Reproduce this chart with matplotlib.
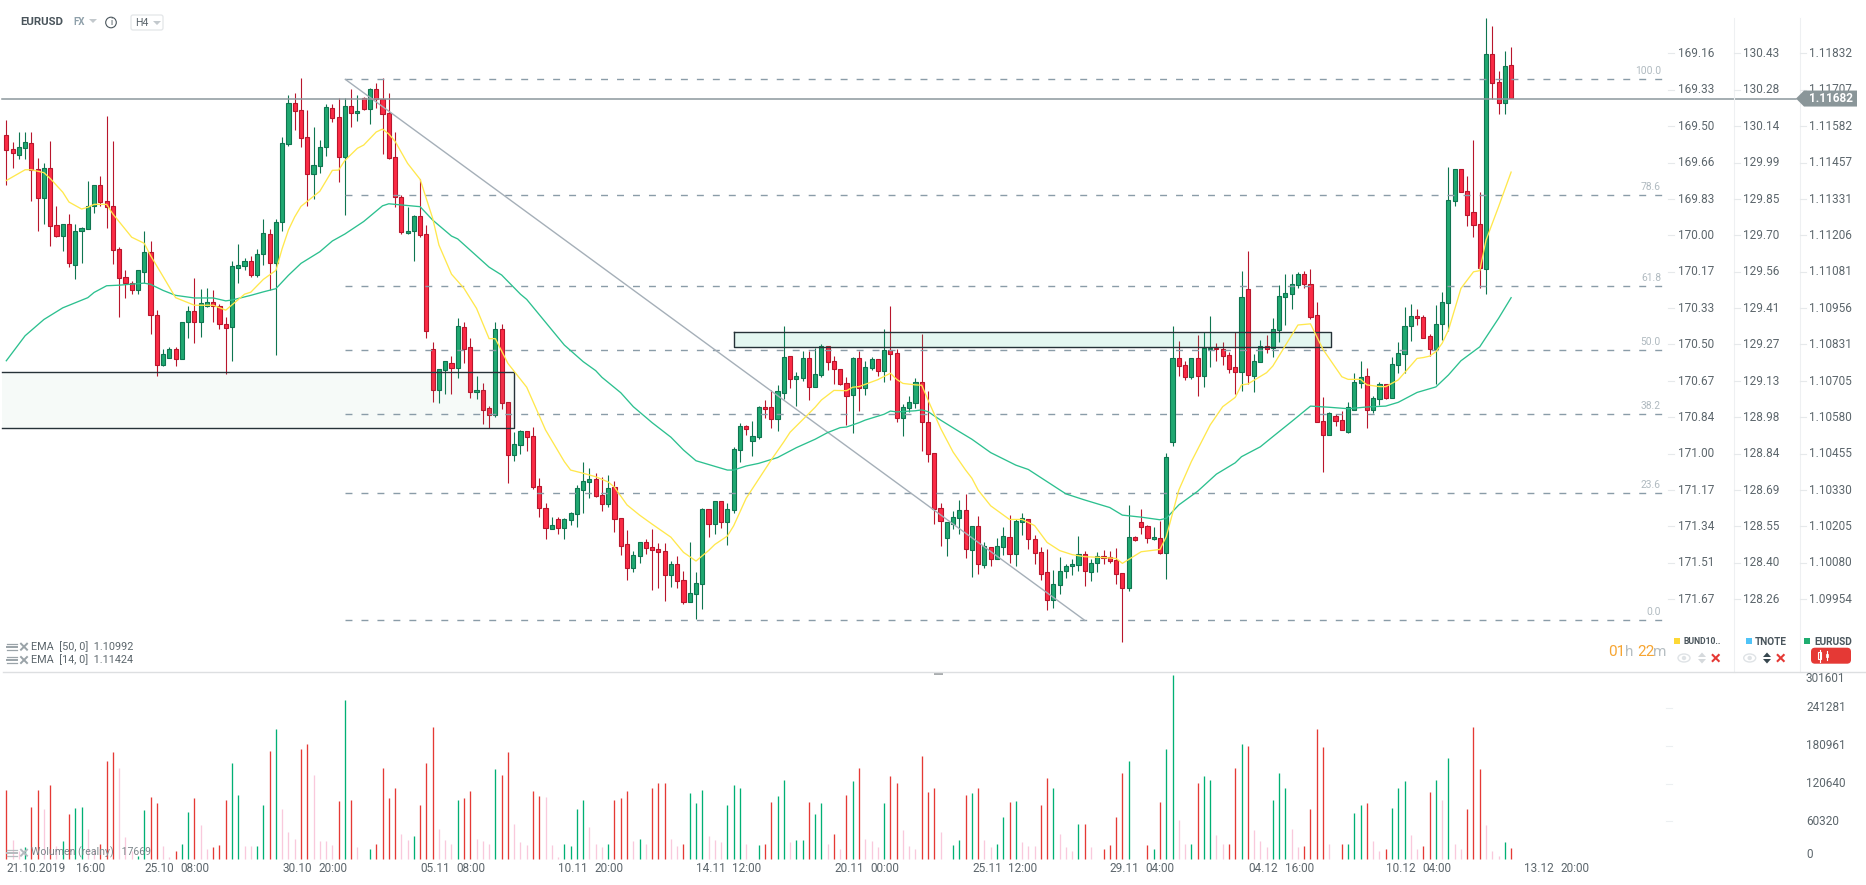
import matplotlib
matplotlib.use("Agg")
import matplotlib.pyplot as plt
from matplotlib.patches import Rectangle, FancyBboxPatch, Polygon, Circle
import numpy as np

plt.rcParams['font.family'] = ['Roboto', 'DejaVu Sans']

# ---- data: EURUSD H4, prices in points (1e-5) above BASE -------------------
BASE = 1.09
POINT = 1e-5
direction = ("RRGGRRGRRG" "RGGGGRRRRR" "RGGRRGGRGG" "RGGRRRGGGR" "GGRGGGRRRG"
             "GGRRGRGRGR" "RRRRGGRRRG" "GRGRRGRRGR" "RGGRRRRGRG" "GGGGRRGRRR"
             "GGRRRRGRRG" "GGRGRGGGRG" "GRRGGRGGRG" "GRRRRGRGGR" "GRRGGGRRRR"
             "GGGRGRGRGG" "RGGRRRRGGG" "GGRGGRRRRG" "RRRGRGGRRG" "RGGRRRRGRG"
             "GRGGGGGRRR" "RGRRGGGRGG" "RGGGGRRRGG" "GGRRRRGRRG" "R")
body_top = [
 2550,2502,2512,2526,2523,2433,2437,2437,2241,2244,
 2247,2223,2230,2309,2378,2378,2323,2306,2161,2062,
 2044,2086,2148,2148,1934,1797,1817,1814,1910,1945,
 1945,1972,1976,1976,1965,1903,2100,2103,2117,2117,
 2141,2213,2210,2254,2523,2660,2660,2636,2543,2447,
 2512,2647,2643,2612,2650,2650,2633,2678,2709,2709,
 2674,2626,2475,2340,2223,2272,2272,2210,1814,1745,
 1773,1769,1893,1890,1821,1676,1673,1611,1883,1883,
 1632,1488,1532,1532,1515,1343,1267,1209,1229,1229,
 1250,1336,1360,1367,1367,1312,1336,1340,1233,1143,
 1106,1150,1150,1133,1126,1119,1075,1075,1020,975,
 1009,1264,1264,1291,1291,1264,1470,1549,1549,1515,
 1615,1615,1615,1670,1787,1790,1721,1783,1783,1728,
 1825,1825,1773,1746,1697,1783,1783,1752,1780,1780,
 1811,1811,1801,1615,1632,1701,1701,1563,1457,1267,
 1219,1236,1260,1260,1205,1205,1137,1133,1137,1171,
 1168,1223,1233,1229,1161,1116,1047,1006,1051,1068,
 1075,1109,1109,1081,1102,1102,1099,1088,1044,1168,
 1168,1219,1205,1168,1164,1443,1783,1783,1759,1783,
 1783,1818,1820,1818,1814,1794,1752,1993,2021,1773,
 1825,1825,1883,1997,2007,2038,2072,2072,2038,1932,
 1567,1594,1584,1570,1615,1701,1718,1721,1646,1694,
 1694,1763,1801,1894,1928,1928,1924,1859,1903,1976,
 2327,2436,2433,2358,2285,2244,2829,2829,2733,2788,
 2791]
body_bottom = [
 2501,2488,2484,2506,2430,2334,2334,2237,2203,2203,
 2110,2106,2220,2227,2309,2320,2303,2155,2058,2041,
 2017,2017,2082,1931,1762,1762,1783,1780,1780,1907,
 1910,1910,1965,1962,1900,1886,1890,2093,2100,2069,
 2069,2141,2110,2110,2251,2519,2633,2540,2416,2416,
 2444,2509,2609,2475,2475,2626,2626,2640,2640,2674,
 2623,2471,2337,2217,2213,2220,2206,1879,1673,1673,
 1742,1749,1749,1817,1669,1669,1607,1587,1587,1628,
 1450,1450,1484,1512,1342,1267,1198,1195,1198,1198,
 1226,1247,1329,1357,1311,1281,1281,1229,1137,1061,
 1061,1102,1130,1123,1116,1037,1037,1016,944,944,
 971,1006,1212,1212,1219,1219,1260,1467,1539,1498,
 1512,1608,1574,1574,1663,1711,1711,1715,1684,1684,
 1725,1770,1746,1694,1653,1656,1680,1680,1749,1739,
 1739,1797,1577,1577,1611,1629,1563,1453,1264,1223,
 1164,1212,1233,1126,1123,1075,1071,1092,1092,1133,
 1109,1109,1219,1161,1112,1040,951,951,1002,1051,
 1068,1071,1051,1047,1078,1095,1085,1040,995,995,
 1157,1202,1164,1161,1112,1112,1494,1756,1718,1718,
 1721,1721,1814,1814,1790,1746,1735,1735,1725,1721,
 1770,1814,1818,1880,1993,2004,2035,2038,1927,1563,
 1518,1518,1567,1536,1529,1605,1697,1605,1605,1642,
 1646,1646,1759,1797,1894,1921,1855,1814,1814,1900,
 1972,2323,2354,2278,2241,2093,2089,2729,2660,2660,
 2678]
highs = [
 2603,2526,2562,2562,2562,2471,2457,2531,2307,2244,
 2280,2245,2236,2393,2378,2410,2617,2531,2165,2087,
 2048,2086,2221,2187,1948,1817,1821,1821,1910,1962,
 2058,2022,2025,2018,1969,1927,2117,2176,2128,2134,
 2159,2262,2227,2261,2545,2688,2695,2746,2636,2579,
 2534,2657,2657,2678,2678,2710,2688,2681,2712,2729,
 2746,2695,2561,2344,2305,2278,2399,2241,1838,1745,
 1773,1793,1921,1910,1852,1724,1700,1621,1908,1903,
 1632,1529,1536,1532,1547,1371,1285,1238,1236,1233,
 1254,1346,1427,1406,1388,1374,1381,1360,1233,1192,
 1121,1150,1161,1195,1147,1147,1085,1102,1051,1150,
 1047,1267,1264,1291,1291,1285,1477,1560,1553,1568,
 1618,1639,1673,1691,1894,1790,1735,1808,1808,1818,
 1832,1825,1790,1746,1718,1787,1808,1774,1787,1780,
 1883,1962,1814,1625,1653,1715,1866,1670,1457,1285,
 1219,1257,1296,1317,1205,1240,1150,1133,1164,1203,
 1243,1229,1250,1229,1174,1133,1126,1054,1099,1075,
 1092,1171,1119,1092,1116,1123,1119,1131,1044,1278,
 1171,1264,1209,1203,1223,1457,1894,1842,1773,1783,
 1863,1873,1928,1835,1839,1804,1873,2084,2153,1797,
 1845,1863,1921,2036,2073,2073,2080,2084,2091,1977,
 1649,1598,1591,1601,1632,1732,1773,1749,1653,1701,
 1694,1787,1839,1959,1969,1952,1934,1866,1966,2010,
 2440,2436,2433,2410,2533,2355,2954,2927,2771,2841,
 2853]
lows = [
 2379,2439,2469,2469,2324,2222,2245,2170,2202,2152,
 2097,2056,2111,2227,2283,2309,2231,2108,1925,1991,
 2006,2003,2041,1867,1722,1757,1783,1757,1780,1852,
 1836,1856,1960,1908,1884,1729,1774,2042,2087,2062,
 2062,2106,2017,1794,2221,2514,2569,2510,2307,2331,
 2421,2479,2596,2390,2276,2579,2600,2636,2589,2643,
 2485,2469,2304,2211,2210,2118,2200,1853,1633,1629,
 1659,1659,1715,1766,1646,1643,1559,1542,1582,1610,
 1354,1430,1454,1465,1334,1238,1162,1195,1179,1162,
 1210,1203,1251,1303,1307,1259,1272,1186,1107,1021,
 1048,1079,1109,986,993,948,997,993,938,944,
 886,921,1169,1179,1198,1141,1251,1427,1520,1447,
 1506,1578,1544,1533,1642,1681,1619,1705,1640,1684,
 1718,1742,1694,1691,1553,1527,1602,1657,1743,1722,
 1702,1709,1564,1516,1598,1611,1463,1427,1213,1138,
 1103,1196,1179,1096,1031,1041,1062,1069,1092,1106,
 1078,1069,1174,1126,1076,1021,917,924,972,1028,
 1038,1051,1000,1017,1047,1076,1081,1007,809,984,
 1155,1179,1148,1158,1109,1024,1482,1723,1709,1711,
 1654,1685,1754,1774,1761,1733,1661,1671,1694,1668,
 1770,1803,1789,1840,1898,1953,2025,2025,1920,1563,
 1392,1518,1551,1536,1525,1605,1680,1544,1594,1622,
 1642,1646,1732,1732,1843,1898,1852,1793,1695,1846,
 1876,2308,2354,2239,2200,2025,2004,2674,2624,2624,
 2678]
volume_k = [
 111,30,14,19,83,110,80,119,21,29,
 72,81,84,48,16,25,156,170,146,35,
 14,6,78,99,89,21,4,14,24,76,
 97,54,17,19,22,94,153,103,21,21,
 21,87,172,208,80,43,33,176,184,134,
 29,29,22,92,254,95,19,0,17,25,
 146,97,113,41,30,37,87,153,210,48,
 30,25,94,97,108,32,29,25,143,134,
 170,56,27,22,108,100,99,22,4,25,
 21,80,94,52,25,19,24,94,97,108,
 29,32,24,113,122,122,32,21,25,105,
 89,111,37,30,27,87,119,114,25,0,
 22,25,91,100,126,27,30,30,91,72,
 89,24,40,17,102,124,146,32,29,19,
 89,132,121,46,21,16,165,107,114,43,
 0,22,30,103,105,113,30,19,24,68,
 91,92,27,21,21,87,130,114,40,19,
 13,56,56,19,0,17,22,67,138,157,
 0,0,22,17,91,176,293,62,24,25,
 122,132,127,38,24,25,145,184,181,46,
 29,19,94,138,113,48,19,21,80,207,
 178,25,0,25,25,73,87,89,29,13,
 16,81,114,124,38,17,21,107,127,95,
 161,24,16,80,211,143,54,13,5,27,
 17.669]
volume_kind = ("RPPGRRPRPG" "RGGPPRRRPP" "PGGRRPPRGG" "RPPRRRGGPP" "GGRGPPPRRP"
               "PPPRGRPPGR" "RRRPPGRRRP" "PPGRRPPPGR" "RPPPRRPPPG" "GGGPPPGRRR"
               "PGPRRRPPRG" "GGPPPGGGPP" "GRRGGPGGRG" "GPRPRGRPPP" "GRRPPPRRRP"
               "PGGRGRPPGG" "RGPPPRRGPP" "PGRPPRRRRG" "PPRGRGGPPG" "RGGPPRRGRP"
               "PPGGGPPRRR" "RPPRGGGRPP" "RGGGPPRRGP" "GPPRRRPPPG" "R")

ema14_i = [0,3,4,6,7,9,10,12,13,14,16,17,20,22,23,25,27,30,33,35,38,39,41,43,44,45,46,47,50,52,53,54,56,57,59,60,61,62,64,66,68,69,71,73,75,77,78,80,
           83,86,89,90,92,94,96,97,99,101,103,106,108,110,112,113,115,116,118,122,124,125,129,130,132,134,135,136,139,141,142,143,145,
           146,147,149,151,153,154,155,157,160,162,164,166,168,170,172,175,177,178,181,184,185,186,187,189,192,194,196,197,198,201,202,206,208,209,210,213,214,216,217,219,220,222,225,
           226,227,228,229,230,232,234,235,236,238,240]
ema14_p = [2395,2432,2432,2422,2402,2355,2321,2297,2303,2313,2313,2280,2200,2179,2137,2065,1992,1966,1966,1949,2004,2011,2055,2086,2161,2225,2270,2306,2358,2430,2431,2464,2506,2517,2562,2572,2555,2530,2454,2399,2265,2173,2073,2024,1955,1851,1851,1766,
           1684,1537,1428,1399,1388,1376,1358,1340,1279,1244,1213,1168,1116,1086,1122,1143,1172,1207,1302,1434,1496,1529,1615,1640,1673,1672,1684,1686,1710,1732,1711,1697,1692,
           1691,1640,1543,1461,1399,1371,1330,1276,1229,1229,1208,1150,1122,1108,1101,1098,1095,1078,1118,1126,1170,1250,1330,1428,1554,1617,1649,1692,1695,1734,1757,1898,1902,1858,1814,1720,1711,1711,1692,1686,1686,1709,1783,
           1786,1791,1806,1835,1880,2024,2081,2085,2190,2305,2424]
ema50_i = [0,3,6,9,13,14,16,18,22,23,25,27,30,33,35,36,39,41,43,45,47,50,52,54,57,60,61,66,68,71,72,77,79,82,
           83,89,92,94,95,98,100,103,106,108,110,115,116,118,120,123,126,129,131,133,134,136,137,140,141,142,145,
           146,147,149,152,154,157,161,163,166,169,172,176,178,181,184,185,187,190,193,196,197,200,202,205,208,211,214,217,220,222,225,
           228,230,232,235,238,240]
ema50_p = [1775,1861,1917,1957,1992,2010,2033,2035,2042,2038,2017,2000,1991,1991,1981,1984,2000,2012,2023,2069,2110,2150,2187,2211,2254,2308,2315,2305,2259,2204,2194,2097,2070,2004,
           1986,1829,1772,1741,1718,1665,1617,1562,1512,1468,1431,1399,1399,1413,1422,1442,1476,1505,1528,1545,1547,1562,1571,1591,1602,1599,1603,
           1606,1600,1571,1531,1505,1459,1416,1401,1359,1317,1296,1270,1244,1237,1228,1233,1279,1326,1385,1424,1445,1479,1514,1566,1619,1615,1610,1616,1619,1632,1666,
           1685,1726,1775,1823,1921,1992]

fib_high, fib_low = 2743, 882
fib_labels = ["100.0", "78.6", "61.8", "50.0", "38.2", "23.6", "0.0"]
fib_ratio = [1.0, 0.786, 0.618, 0.5, 0.382, 0.236, 0.0]

price_ticks = [1.11832,1.11707,1.11582,1.11457,1.11331,1.11206,1.11081,1.10956,
               1.10831,1.10705,1.10580,1.10455,1.10330,1.10205,1.10080,1.09954]
col1_labels = ["169.16","169.33","169.50","169.66","169.83","170.00","170.17","170.33",
               "170.50","170.67","170.84","171.00","171.17","171.34","171.51","171.67"]
col2_labels = ["130.43","130.28","130.14","129.99","129.85","129.70","129.56","129.41",
               "129.27","129.13","128.98","128.84","128.69","128.55","128.40","128.26"]
last_price_label = "1.11682"
last_price_level = 1.11677
vol_ticks = [0, 60320, 120640, 180961, 241281, 301601]
date_pos = [4.7,13.4,24.4,30.1,46.4,52.1,68.4,74.1,90.4,96.1,112.4,118.1,134.4,140.1,
            156.4,162.1,178.3,184.0,200.4,206.2,222.4,228.2,244.4,250.2]
date_labels = ["21.10.2019","16:00","25.10","08:00","30.10","20:00","05.11","08:00",
               "10.11","20:00","14.11","12:00","20.11","00:00","25.11","12:00",
               "29.11","04:00","04.12","16:00","10.12","04:00","13.12","20:00"]

def price(p):
    return BASE + np.asarray(p, dtype=float) * POINT

# ---- layout -----------------------------------------------------------------
W, H = 1866, 885
fig = plt.figure(figsize=(W / 100, H / 100), dpi=100, facecolor="white")
SPLIT = 672
ax = fig.add_axes([0, 1 - SPLIT / H, 1, SPLIT / H])
vax = fig.add_axes([0, 0, 1, 1 - SPLIT / H])
ui = fig.add_axes([0, 0, 1, 1], zorder=10)
ui.set_xlim(0, W); ui.set_ylim(H, 0); ui.axis("off"); ui.patch.set_alpha(0)
for a in (ax, vax):
    a.axis("off")
    a.set_xlim(-1.005, 296.6)
ax.set_ylim(price(3016 - 3.44 * SPLIT), price(3016))
vax.set_ylim(-(885 - 859.3) * 1591.6, (859.3 - 672) * 1591.6)

# ---- candles ----------------------------------------------------------------
idx = np.arange(len(body_top))
up = np.array([d == "G" for d in direction])
top, bot, hi, lo = map(price, (body_top, body_bottom, highs, lows))
GF, GE, RF, RE = "#1fa871", "#0f7550", "#fb2b45", "#b8162c"
ax.vlines(idx[up], lo[up], hi[up], color=GE, lw=0.8, zorder=2)
ax.vlines(idx[~up], lo[~up], hi[~up], color=RE, lw=0.8, zorder=2)
ax.bar(idx[up], (top - bot)[up], bottom=bot[up], width=0.66, color=GF, edgecolor=GE, lw=0.8, zorder=3)
ax.bar(idx[~up], (top - bot)[~up], bottom=bot[~up], width=0.66, color=RF, edgecolor=RE, lw=0.8, zorder=3)

# ---- zones ------------------------------------------------------------------
EDGE = "#263238"
def zone(x0, x1, p0, p1, face, alpha, left=True):
    ax.add_patch(Rectangle((x0, price(p0)), x1 - x0, price(p1) - price(p0), fc=face, ec="none", alpha=alpha, zorder=4))
    ax.plot([x0, x1, x1, x0] if not left else [x0, x1, x1, x0, x0],
            price([p1, p1, p0, p0] if not left else [p1, p1, p0, p0, p1]), color=EDGE, lw=1.0, zorder=5)
zone(-0.7, 81.0, 1542, 1738, "#5f9f86", 0.05, left=False)
zone(116.1, 211.2, 1821, 1873, "#2fc795", 0.13)

# ---- fibonacci --------------------------------------------------------------
for lab, r in zip(fib_labels, fib_ratio):
    p = fib_low + (fib_high - fib_low) * r
    ax.plot([54.07, 265], price([p, p]), color="#8a9ca8", lw=1.0, ls=(0, (5, 6.5)), zorder=6)
    ax.annotate(lab, (265, price(p)), xytext=(-5, 2.2), textcoords="offset points",
                ha="right", va="bottom", fontsize=7.4, color="#b0bac0", zorder=6)
ax.plot([54.07, 172], price([fib_high, fib_low]), color="#a5afb8", lw=1.0, zorder=6)

# ---- EMA --------------------------------------------------------------------
ax.plot(ema50_i, price(ema50_p), color="#2cc08f", lw=0.95, zorder=7)
ax.plot(ema14_i, price(ema14_p), color="#ffe84d", lw=0.95, zorder=8)

# ---- last price -------------------------------------------------------------
ax.plot([-0.7, 285.4], [last_price_level, last_price_level], color="#8c979c", lw=1.1, zorder=9)

# ---- volume -----------------------------------------------------------------
vcol = {"R": "#e53935", "G": "#00b074", "P": "#f9c9dc"}
vax.vlines(idx, 0, np.array(volume_k) * 1000, colors=[vcol[k] for k in volume_kind], lw=0.95)
TX = "#5c666c"
for v in vol_ticks:
    y = 859.3 - v / 1591.6
    if v == 0:
        y = 854.3
    elif v == 301601:
        y = 678.7
    else:
        ui.plot([1666, 1672], [y, y], color="#eceff1", lw=0.8)
    ui.text(1806, y, str(v), ha="left", va="center", fontsize=8.5, color=TX)
for x, lab in zip(date_pos, date_labels):
    vax.annotate(lab, (x, 0), xytext=(x, -9.0 * 1591.6), ha="center", va="center",
                 fontsize=8.5, color=TX, annotation_clip=False)

# ---- price axes -------------------------------------------------------------
for x in (1734, 1800):
    ui.plot([x, x], [18, SPLIT], color="#eef0f2", lw=0.8)
for p, a, b in zip(price_ticks, col1_labels, col2_labels):
    y = (3016 - (p - BASE) / POINT) / 3.44
    for x0, xt, s in ((1668, 1678, a), (1734, 1743, b), (1800, 1809, f"{p:.5f}")):
        ui.plot([x0, x0 + 6], [y, y], color="#e6e9eb", lw=0.8)
        ui.text(xt, y, s, ha="left", va="center", fontsize=8.5, color=TX)
yl = (3016 - (last_price_level - BASE) / POINT) / 3.44
ui.add_patch(Polygon([(1796, yl), (1804, yl - 8), (1857, yl - 8), (1857, yl + 8), (1804, yl + 8)],
                     fc="#8a9699", ec="none", zorder=20))
ui.text(1809, yl, last_price_label, ha="left", va="center", fontsize=8.5, color="white",
        weight="bold", zorder=21)

# ---- header -----------------------------------------------------------------
ui.text(20, 22, "EURUSD", fontsize=8.2, weight="bold", color="#4a555c", va="center")
ui.text(73, 22, "FX", fontsize=7, weight="bold", color="#8fa0aa", va="center")
ui.add_patch(Polygon([(89, 19), (97, 19), (93, 23)], fc="#c3c9cd", ec="none"))
ui.add_patch(Circle((111, 22.5), 5.3, fc="white", ec="#4a555c", lw=0.8))
ui.text(111, 22.5, "i", fontsize=6.5, color="#4a555c", ha="center", va="center")
ui.add_patch(FancyBboxPatch((131, 15), 32, 15, boxstyle="round,pad=0,rounding_size=2", fc="white", ec="#e3e6e8", lw=0.9))
ui.text(135, 22.5, "H4", fontsize=7.6, color="#59636a", va="center")
ui.add_patch(Polygon([(153, 21), (161, 21), (157, 25)], fc="#c3c9cd", ec="none"))

# ---- indicator legends ------------------------------------------------------
def legend_icons(y, col="#9aa3a8"):
    for dy in (-3, 0, 3):
        ui.plot([7, 17], [y + dy, y + dy], color=col, lw=0.9 if dy else 1.4)
    ui.plot([21, 27], [y - 3, y + 3], color=col, lw=1.4)
    ui.plot([21, 27], [y + 3, y - 3], color=col, lw=1.4)
legend_icons(646.7)
legend_icons(660)
ui.text(31, 646.7, "EMA  [50, 0]  1.10992", fontsize=7.8, color="#5c666c", va="center")
ui.text(31, 660, "EMA  [14, 0]  1.11424", fontsize=7.8, color="#5c666c", va="center")
legend_icons(852.7, "#b5bbbf")
ui.text(31, 852.7, "Wolumen (realny)   17669", fontsize=7.6, color="#7c858a", va="center")

# ---- timer ------------------------------------------------------------------
for x, s, c in ((1608, "01", "#f7a531"), (1625, "h", "#b6bec2"), (1637, "22", "#f7a531"), (1653, "m", "#b6bec2")):
    ui.text(x, 651.7, s, fontsize=11, color=c, va="center", ha="left")

# ---- instrument legend ------------------------------------------------------
for x, col, name, tx, fs in ((1674, "#fdd835", "BUND10..", 1684, 6.2),
                             (1746, "#4fc3f7", "TNOTE", 1755, 7.2),
                             (1804, "#1fad70", "EURUSD", 1814, 7.2)):
    ui.add_patch(Rectangle((x, 637.7), 6, 6, fc=col, ec="none"))
    ui.text(tx, 642, name, fontsize=fs, weight="bold", color="#4a555c", va="center")
def eye(x, y):
    ui.add_patch(matplotlib.patches.Ellipse((x, y), 12, 8, fc="white", ec="#dfe3e6", lw=1))
    ui.add_patch(Circle((x, y), 2.2, fc="#dfe3e6", ec="none"))
def arrows(x, y, c):
    ui.add_patch(Polygon([(x - 4, y - 1), (x + 4, y - 1), (x, y - 5.5)], fc=c, ec="none"))
    ui.add_patch(Polygon([(x - 4, y + 1), (x + 4, y + 1), (x, y + 5.5)], fc=c, ec="none"))
def cross(x, y):
    ui.plot([x - 3, x + 3], [y - 3, y + 3], color="#e53935", lw=1.5)
    ui.plot([x - 3, x + 3], [y + 3, y - 3], color="#e53935", lw=1.5)
eye(1684, 658); arrows(1702, 658, "#d5d9dc"); cross(1715.7, 658)
eye(1749.7, 658); arrows(1767, 658, "#37474f"); cross(1780.7, 658)
ui.add_patch(FancyBboxPatch((1811, 647.7), 40, 16, boxstyle="round,pad=0,rounding_size=4", fc="#e53935", ec="none"))
ui.plot([1819.5, 1819.5], [649.5, 661.5], color="white", lw=0.8)
ui.add_patch(Rectangle((1818, 652), 3, 7, fc="#e53935", ec="white", lw=0.8))
ui.plot([1827, 1827], [651, 660], color="white", lw=0.8)
ui.add_patch(Rectangle((1825.8, 654), 2.4, 3, fc="white", ec="white", lw=0.5))

# ---- separator --------------------------------------------------------------
ui.plot([3, W], [671.7, 671.7], color="#dddfe1", lw=1.0)
ui.add_patch(Rectangle((934, 672), 9, 3, fc="#a9adaf", ec="none"))

fig.savefig("out.png", dpi=100, facecolor="white")
